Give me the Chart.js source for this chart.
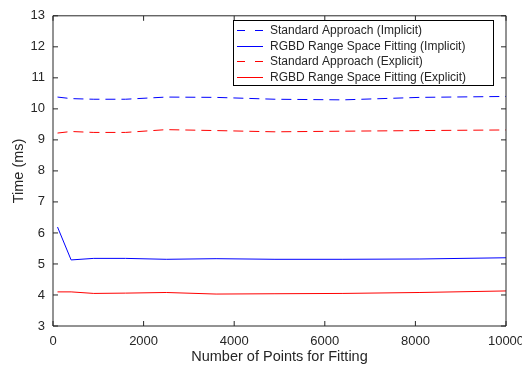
<!DOCTYPE html>
<html>
<head>
<meta charset="utf-8">
<script src="https://cdn.jsdelivr.net/npm/chart.js@4.4.0/dist/chart.umd.min.js"></script>
<style>
  html, body { margin: 0; padding: 0; background: #fff; }
  #wrap { width: 522px; height: 366px; }
</style>
</head>
<body>
<div id="wrap"><canvas id="myChart" width="522" height="366"></canvas></div>
<script>
// numero de puntos usados en el ajuste (eje x)
var puntos = [100, 400, 900, 1600, 2500, 3600, 4900, 6400, 8100, 10000];

// tiempos en ms
var std_impl  = [10.38, 10.33, 10.31, 10.31, 10.38, 10.37, 10.31, 10.29, 10.37, 10.40];
var rgbd_impl = [6.19, 5.13, 5.18, 5.18, 5.15, 5.17, 5.15, 5.15, 5.16, 5.20];
var std_expl  = [9.22, 9.27, 9.24, 9.24, 9.33, 9.30, 9.26, 9.28, 9.30, 9.32];
var rgbd_expl = [4.10, 4.10, 4.05, 4.06, 4.08, 4.03, 4.04, 4.05, 4.08, 4.13];

var nombres = [
  "Standard Approach (Implicit)",
  "RGBD Range Space Fitting (Implicit)",
  "Standard Approach (Explicit)",
  "RGBD Range Space Fitting (Explicit)"
];
var colores = ["#0000ff", "#0000ff", "#ff0000", "#ff0000"];
var rayado = [true, false, true, false];

var xTicks = [0, 2000, 4000, 6000, 8000, 10000];
var yTicks = [3, 4, 5, 6, 7, 8, 9, 10, 11, 12, 13];

var FUENTE = "'Liberation Sans', Arial, Helvetica, sans-serif";
var EJE = "#262626";

function serie(valores) {
  var pts = [];
  for (var i = 0; i < puntos.length; i++) pts.push({ x: puntos[i], y: valores[i] });
  return pts;
}

// marco con ticks hacia adentro (estilo matlab)
var marco = {
  id: 'marco',
  afterDatasetsDraw: function (chart) {
    var ctx = chart.ctx;
    var a = chart.chartArea;
    var sx = chart.scales.x, sy = chart.scales.y;
    var largo = 5;
    ctx.save();
    ctx.strokeStyle = EJE;
    ctx.lineWidth = 1;
    ctx.setLineDash([]);
    ctx.beginPath();
    ctx.rect(a.left, a.top, a.right - a.left, a.bottom - a.top);
    xTicks.forEach(function (v) {
      var px = sx.getPixelForValue(v);
      ctx.moveTo(px, a.bottom); ctx.lineTo(px, a.bottom - largo);
      ctx.moveTo(px, a.top); ctx.lineTo(px, a.top + largo);
    });
    yTicks.forEach(function (v) {
      var py = sy.getPixelForValue(v);
      ctx.moveTo(a.left, py); ctx.lineTo(a.left + largo, py);
      ctx.moveTo(a.right, py); ctx.lineTo(a.right - largo, py);
    });
    ctx.stroke();
    ctx.restore();
  }
};

// leyenda dentro del area, con recuadro
var leyenda = {
  id: 'leyenda',
  afterDraw: function (chart) {
    var ctx = chart.ctx;
    var bx = 233, by = 20, bw = 260, bh = 65;
    ctx.save();
    ctx.fillStyle = "#fff";
    ctx.fillRect(bx, by, bw, bh);
    ctx.strokeStyle = "#000";
    ctx.lineWidth = 1;
    ctx.strokeRect(bx + 0.5, by + 0.5, bw, bh);
    ctx.font = "12px " + FUENTE;
    ctx.textBaseline = "middle";
    ctx.textAlign = "left";
    for (var i = 0; i < nombres.length; i++) {
      var y = Math.round(30 + i * 15.6) + 0.5;
      ctx.strokeStyle = colores[i];
      ctx.lineWidth = 1;
      ctx.setLineDash(rayado[i] ? [8, 10] : []);
      ctx.beginPath();
      ctx.moveTo(237, y);
      ctx.lineTo(263, y);
      ctx.stroke();
      ctx.setLineDash([]);
      ctx.fillStyle = EJE;
      ctx.fillText(nombres[i], 270, y);
    }
    ctx.restore();
  }
};

var datasets = [std_impl, rgbd_impl, std_expl, rgbd_expl].map(function (vals, i) {
  return { label: nombres[i], data: serie(vals), borderColor: colores[i], borderDash: rayado[i] ? [10, 6] : [] };
});

new Chart("myChart", {
  type: "line",
  data: { datasets: datasets },
  options: {
    responsive: false,
    animation: false,
    devicePixelRatio: 1,
    layout: { padding: { top: 11, right: 16, left: 0, bottom: 0 } },
    datasets: { line: { borderWidth: 1, pointRadius: 0, tension: 0, fill: false } },
    plugins: { legend: { display: false }, tooltip: { enabled: false } },
    scales: {
      x: {
        type: "linear",
        min: 0, max: 10000,
        afterBuildTicks: function (s) { s.ticks = xTicks.map(function (v) { return { value: v }; }); },
        afterFit: function (s) { s.height = 40; s.paddingLeft = 0; s.paddingRight = 0; },
        grid: { display: false, drawTicks: false },
        border: { display: false },
        ticks: { padding: 8, maxRotation: 0, color: EJE, font: { family: FUENTE, size: 13 },
                 callback: function (v) { return String(v); } },
        title: { display: true, text: "Number of Points for Fitting", color: EJE,
                 padding: { top: 0, bottom: 0 }, font: { family: FUENTE, size: 14.5 } }
      },
      y: {
        min: 3, max: 13,
        afterBuildTicks: function (s) { s.ticks = yTicks.map(function (v) { return { value: v }; }); },
        afterFit: function (s) { s.width = 53; },
        grid: { display: false, drawTicks: false },
        border: { display: false },
        ticks: { padding: 8, color: EJE, font: { family: FUENTE, size: 13 },
                 callback: function (v) { return String(v); } },
        title: { display: true, text: "Time (ms)", color: EJE,
                 padding: { top: 10, bottom: 0 }, font: { family: FUENTE, size: 14.5 } }
      }
    }
  },
  plugins: [marco, leyenda]
});
</script>
</body>
</html>
